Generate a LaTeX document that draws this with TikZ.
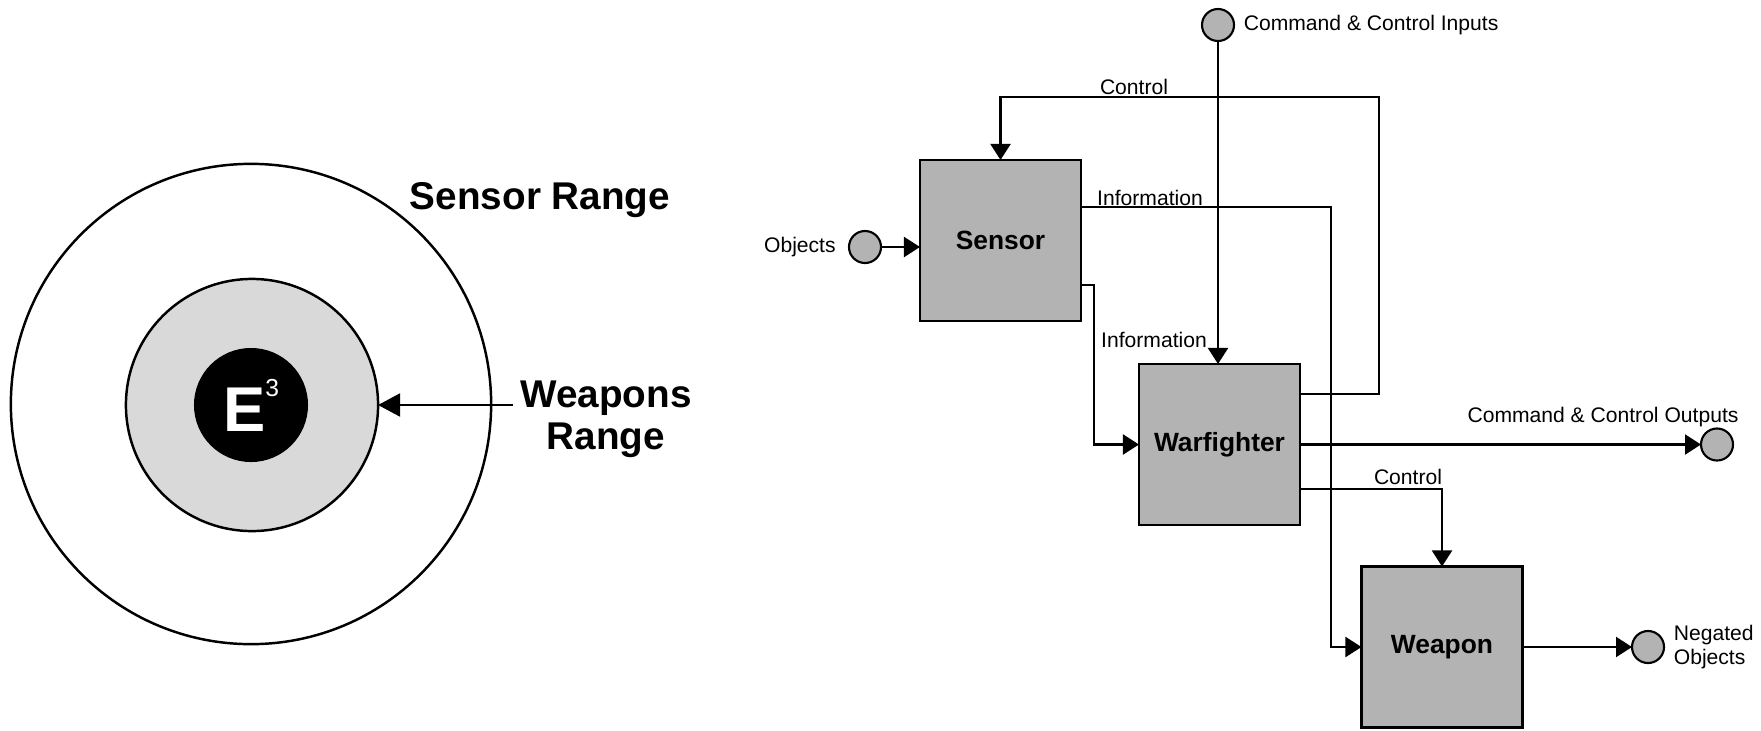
\documentclass[tikz,border=0pt]{standalone}
\usepackage{fontspec}
\setmainfont{Liberation Sans}
\usetikzlibrary{arrows.meta,positioning,calc}
\definecolor{boxgray}{RGB}{179,179,179}
\definecolor{ringgray}{RGB}{217,217,217}

\begin{document}
\begin{tikzpicture}[x=0.01cm, y=-0.01cm, >={Triangle[length=1.6mm,width=2mm]},
  line width=0.6pt,
  block/.style={draw, line width=0.8pt, fill=boxgray, minimum width=1.61cm, minimum height=1.61cm, outer sep=0pt, font=\fontsize{7.5}{9}\selectfont\bfseries},
  port/.style={draw, circle, fill=boxgray, minimum size=0.32cm, inner sep=0pt, outer sep=0pt},
  lbl/.style={inner sep=1pt, font=\fontsize{6}{7}\selectfont},
  big/.style={font=\fontsize{11}{12}\selectfont\bfseries}]
  \useasboundingbox (0,0) rectangle (1761,730);

  % left: ranges round E3
  \node[draw, circle, minimum size=4.8cm, line width=0.7pt] (sensrng) at (251,404) {};
  \node[draw, circle, fill=ringgray, minimum size=2.52cm, line width=0.7pt, outer sep=0pt] (weaprng) at (252,405) {};
  \node[circle, fill=black, minimum size=1.14cm, inner sep=0pt, text=white,
        font=\fontsize{18}{18}\selectfont\bfseries] (e3) at (251,405)
        {E\raisebox{10pt}{\fontsize{7}{7}\selectfont\mdseries 3}};
  \node[big] (senslbl) at (540,200) {Sensor Range};
  \node[big, align=center] (weaplbl) at (606,419) {Weapons\\Range};
  \coordinate (wtail) at (513,405);
  \draw[->, >={Triangle[length=2.2mm,width=2.3mm]}] (wtail) -- (weaprng.east);

  % right: sensor to weapon chain
  \node[block] (sensor) at (1000.5,240.5) {Sensor};
  \node[block] (warf) at (1219.5,444.5) {Warfighter};
  \node[block] (weapon) at (1442,647) {Weapon};

  \node[port] (obj) at (865,247) {};
  \node[port] (ccin) at (1218,25) {};
  \node[port] (ccout) at (1717,444.5) {};
  \node[port] (negobj) at (1648,647) {};

  \node[lbl, left=2.5pt of obj] (objlbl) {Objects};
  \node[lbl, right=1.5pt of ccin] (ccinlbl) {Command \& Control Inputs};
  \node[lbl, right=1.5pt of negobj, align=left] (neglbl) {Negated\\Objects};
  \node[lbl] (cclbl) at (1603,417) {Command \& Control Outputs};
  \node[lbl] (ctl1) at (1134,87) {Control};
  \node[lbl] (ctl2) at (1408,477) {Control};
  \node[lbl] (inf1) at (1150,198) {Information};
  \node[lbl] (inf2) at (1154,340) {Information};

  \coordinate (fbx) at (1379,97);
  \coordinate (infx) at (1331,207);
  \coordinate (inf2x) at (1094,285);

  \draw[->] (obj) -- (sensor.west |- obj);
  \draw[->] (ccin) -- (warf.north -| ccin);
  \draw[->] ([yshift=5.05mm]warf.east) -| (fbx) -| (sensor.north);
  \draw[->] (sensor.east |- infx) -- (infx) |- (weapon.west);
  \draw[->] (sensor.east |- inf2x) -- (inf2x) |- (warf.west);
  \draw[->] (warf.east) -- (ccout);
  \draw[->] ([yshift=-4.45mm]warf.east) -| (weapon.north);
  \draw[->] (weapon.east) -- (negobj);
\end{tikzpicture}
\end{document}
